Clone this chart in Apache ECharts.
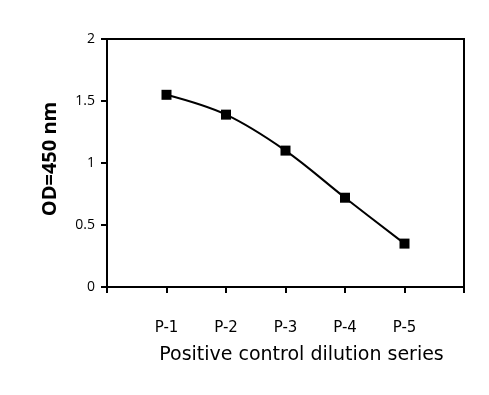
<!DOCTYPE html>
<html><head><meta charset="utf-8">
<script src="https://cdn.jsdelivr.net/npm/echarts@6/dist/echarts.min.js"></script>
<style>html,body{margin:0;padding:0;background:#fff}#c{width:489px;height:395px}</style>
</head><body><div id="c"></div>
<script>
var categories = ['P-1', 'P-2', 'P-3', 'P-4', 'P-5'];
var odValues = [1.55, 1.39, 1.10, 0.72, 0.35];
var yTicks = [0, 0.5, 1, 1.5, 2];

var data = odValues.map(function (v, i) { return [i + 1, v]; });
var chart = echarts.init(document.getElementById('c'));
chart.setOption({
  animation: false,
  grid: { left: 107, right: 25, top: 39, bottom: 108, show: true, borderColor: '#000', borderWidth: 2, backgroundColor: 'transparent' },
  xAxis: {
    type: 'value', min: 0, max: categories.length + 1, interval: 1,
    name: 'Positive control dilution series', nameLocation: 'middle', nameGap: 59,
    nameTextStyle: { fontFamily: 'DejaVu Sans', fontSize: 19, color: '#000', padding: [0, 0, 0, 32] },
    axisLine: { lineStyle: { color: '#000', width: 2 } },
    axisTick: { show: true, length: 6, lineStyle: { color: '#000', width: 2 } },
    splitLine: { show: false },
    axisLabel: {
      margin: 34, fontFamily: 'DejaVu Sans', fontSize: 15, color: '#000',
      formatter: function (v) { return (v >= 1 && v <= categories.length) ? categories[v - 1] : ''; }
    }
  },
  yAxis: {
    type: 'value', min: yTicks[0], max: yTicks[yTicks.length - 1], interval: 0.5,
    name: 'OD=450 nm', nameLocation: 'middle', nameGap: 47, nameRotate: 90,
    nameTextStyle: { fontFamily: 'Open Sans', fontWeight: 'bold', fontSize: 20, color: '#000', padding: [0, 0, 0, 8] },
    axisLine: { show: true, lineStyle: { color: '#000', width: 2 } },
    axisTick: { show: true, length: 6, lineStyle: { color: '#000', width: 2 } },
    splitLine: { show: false },
    axisLabel: { margin: 12, fontFamily: 'Open Sans', fontSize: 14, color: '#000' }
  },
  series: [{
    type: 'line', data: data, smooth: 0.35,
    symbol: 'rect', symbolSize: 10,
    lineStyle: { color: '#000', width: 2 },
    itemStyle: { color: '#000' }
  }]
});
</script></body></html>
